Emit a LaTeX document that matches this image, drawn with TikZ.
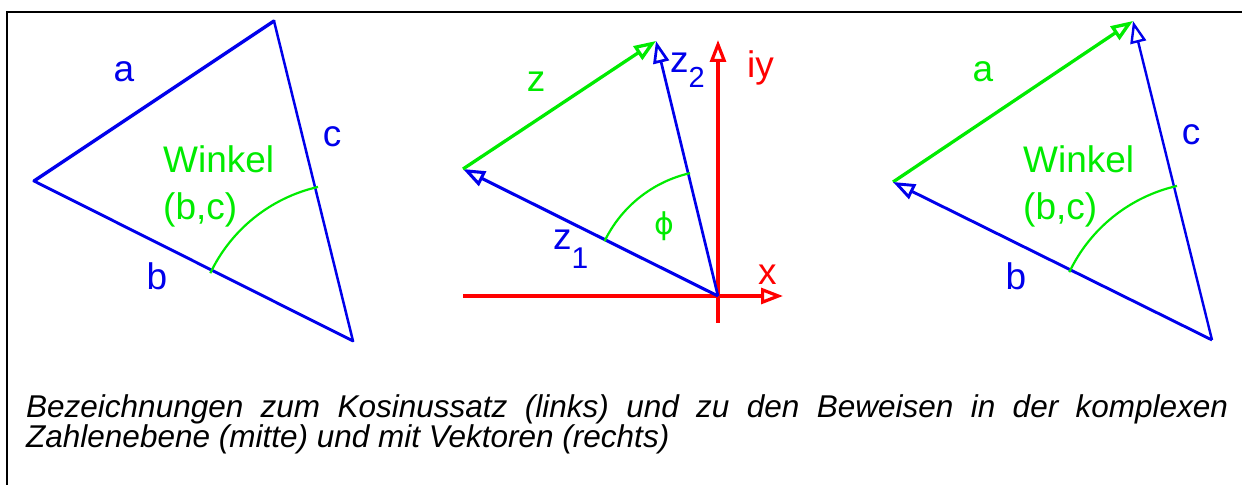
\documentclass[tikz,border=0pt]{standalone}
\usepackage{fontspec}
\setmainfont{Liberation Sans}
\newfontfamily\symfont{DejaVu Sans}
\usetikzlibrary{arrows.meta}
\definecolor{vblue}{RGB}{0,0,235}
\definecolor{vgreen}{RGB}{0,235,0}
\definecolor{vred}{RGB}{255,0,0}
\tikzset{
  lbl/.style={inner sep=0pt, font=\fontsize{37}{47}\selectfont},
  tip/.style={-{Triangle[open,length=22pt,width=16pt]}},
  side/.style={line cap=round, line join=round},
  anglearc/.style={draw=vgreen, line width=2.2pt},
  captext/.style={inner sep=0pt, anchor=base west, font=\itshape\fontsize{31.5}{30}\selectfont},
}
\begin{document}
\begin{tikzpicture}[x=1pt,y=1pt]
\useasboundingbox (0,0) rectangle (1242,485);
% frame
\coordinate (fr1) at (1242,473);
\coordinate (fr2) at (7,473);
\coordinate (fr3) at (7,0);
\draw[line width=2pt] (fr1) -- (fr2) -- (fr3);

% ---------- left triangle ----------
\coordinate (T1) at (274,464);
\coordinate (L1) at (34,304);
\coordinate (B1) at (353,144);
\draw[side, vblue, line width=3.4pt] (L1) -- (T1);
\draw[side, vblue, line width=2.9pt] (L1) -- (B1);
\draw[side, vblue, line width=2.5pt] (T1) -- (B1);
\draw[anglearc] (B1) ++(154.6:158) arc[start angle=154.6, end angle=102.8, radius=158];
\node[lbl, vblue, anchor=base] (aL) at (124,403) {a};
\node[lbl, vblue, anchor=base] (cL) at (332,338) {c};
\node[lbl, vblue, anchor=base] (bL) at (157,195) {b};
\node[lbl, vgreen, anchor=base west, align=left] (wL) at (163,265) {Winkel\\(b,c)};

% ---------- middle: complex plane ----------
\coordinate (O) at (718,189);
\coordinate (xs) at (463,189);
\coordinate (xe) at (783,189);
\coordinate (ys) at (718,162);
\coordinate (ye) at (718,445);
\coordinate (Z1) at (463,316);
\coordinate (Z2) at (656,444);
\draw[vred, line width=3.2pt, tip] (xs) -- (xe);
\draw[vred, line width=3.2pt, tip] (ys) -- (ye);
\draw[vblue, line width=3.1pt, tip] (O) -- (Z1);
\draw[vblue, line width=2.7pt, tip] (O) -- (Z2);
\draw[vgreen, line width=3.3pt, tip] (Z1) -- (Z2);
\draw[anglearc] (O) ++(154.2:126) arc[start angle=154.2, end angle=102.8, radius=126];
\node[lbl, vgreen, anchor=base] (zlab) at (536,393) {z};
\node[lbl, vblue, anchor=base west] (z2lab) at (670,412) {z\raisebox{-15pt}{\fontsize{29}{29}\selectfont 2}};
\node[lbl, vblue, anchor=base west] (z1lab) at (553,235) {z\raisebox{-19pt}{\fontsize{30}{30}\selectfont 1}};
\node[inner sep=0pt, vgreen, font=\symfont\fontsize{30}{30}\selectfont] (phi) at (664,259) {ϕ};
\node[lbl, vred, anchor=base west] (iy) at (747,407) {iy};
\node[lbl, vred, anchor=base west] (xlab) at (758,200) {x};

% ---------- right: vectors ----------
\coordinate (T3) at (1133,464);
\coordinate (L3) at (893,303);
\coordinate (B3) at (1212,145);
\draw[vgreen, line width=3.3pt, tip] (L3) -- (T3);
\draw[vblue, line width=2.9pt, tip] (B3) -- (L3);
\draw[vblue, line width=2.4pt, tip] (B3) -- (T3);
\draw[anglearc] (B3) ++(154.6:158) arc[start angle=154.6, end angle=102.8, radius=158];
\node[lbl, vgreen, anchor=base] (aR) at (983,403) {a};
\node[lbl, vblue, anchor=base] (cR) at (1191,340) {c};
\node[lbl, vblue, anchor=base] (bR) at (1016,195) {b};
\node[lbl, vgreen, anchor=base west, align=left] (wR) at (1023,265) {Winkel\\(b,c)};

% ---------- caption ----------
\node[captext] (cap1) at (26,68)
  {\makebox[1202pt][s]{Bezeichnungen zum Kosinussatz (links) und zu den Beweisen in der komplexen}};
\node[captext] (cap2) at (26,38)
  {Zahlenebene (mitte) und mit Vektoren (rechts)};
\end{tikzpicture}
\end{document}
